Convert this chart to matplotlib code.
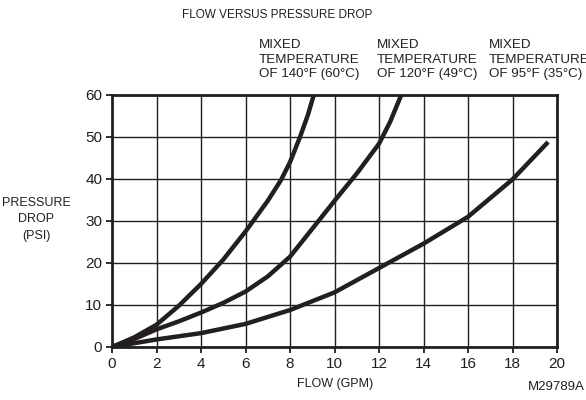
import numpy as np
import matplotlib.pyplot as plt

plt.rcParams['font.family'] = ['Liberation Sans', 'DejaVu Sans']

# flow (GPM) vs pressure drop (PSI)
flow_140 = [0, 1, 2, 3, 4, 5, 6, 7, 7.6, 8, 8.45, 8.8, 9.07]
psi_140 = [0, 2.3, 5.3, 9.8, 15.0, 20.8, 27.5, 34.8, 39.8, 44.0, 50, 55.2, 60]

flow_120 = [0, 1, 2, 3, 4, 5, 6, 7, 8, 9.28, 10, 11, 12, 12.5, 13.0]
psi_120 = [0, 1.9, 4.2, 6.1, 8.2, 10.5, 13.2, 16.8, 21.5, 30, 34.8, 41.3, 48.4, 53.6, 60]

flow_95 = [0, 2, 4, 6, 8, 10, 12, 14, 16, 18, 19.6]
psi_95 = [0, 1.8, 3.3, 5.5, 8.8, 13.0, 18.8, 24.6, 31.0, 39.9, 48.8]

curve_labels = ['MIXED\nTEMPERATURE\nOF 140°F (60°C)',
                'MIXED\nTEMPERATURE\nOF 120°F (49°C)',
                'MIXED\nTEMPERATURE\nOF 95°F (35°C)']

x_ticks = list(range(0, 21, 2))
y_ticks = list(range(0, 61, 10))

ink = '#231f20'

fig = plt.figure(figsize=(5.86, 4.0), dpi=100)
ax = fig.add_axes([112 / 586, 53 / 400, 445 / 586, 252 / 400])

for x, y in [(flow_140, psi_140), (flow_120, psi_120), (flow_95, psi_95)]:
    ax.plot(x, y, color=ink, lw=3.2, solid_capstyle='butt',
            solid_joinstyle='round', zorder=3)

ax.set_xlim(0, 20)
ax.set_ylim(0, 60)
ax.set_xticks(x_ticks)
ax.set_yticks(y_ticks)
ax.grid(True, color=ink, lw=1.0)
ax.tick_params(length=4, width=1.3, color=ink, labelsize=11, labelcolor=ink, pad=3)
for side in ax.spines:
    ax.spines[side].set_linewidth(2.0)
    ax.spines[side].set_color(ink)

fig.text(277 / 586, 1 - 15 / 400, 'FLOW VERSUS PRESSURE DROP', ha='center', va='center',
         fontsize=8.5, color=ink)
# the last label runs off the right edge in the original too
for xpos, lab in zip([259, 377, 489], curve_labels):
    fig.text(xpos / 586, 1 - 39 / 400, lab, ha='left', va='top', fontsize=9.6,
             color=ink, linespacing=1.3)
fig.text(36 / 586, 1 - 219 / 400, 'PRESSURE\nDROP\n(PSI)', ha='center', va='center',
         fontsize=9, color=ink, linespacing=1.5)
fig.text(335 / 586, 1 - 384 / 400, 'FLOW (GPM)', ha='center', va='center',
         fontsize=9, color=ink)
fig.text(585 / 586, 1 - 387 / 400, 'M29789A', ha='right', va='center',
         fontsize=9.5, color=ink)

fig.savefig('out.png', dpi=100)
